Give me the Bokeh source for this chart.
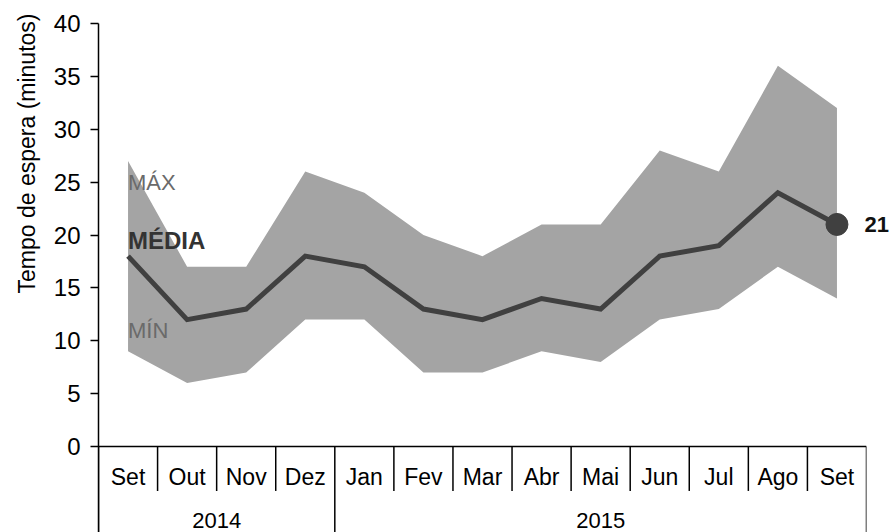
from bokeh.plotting import figure
from bokeh.models import FactorRange, Range1d, FixedTicker, LinearAxis, Title
from bokeh.embed import file_html
from bokeh.resources import INLINE

# ---- data ----
months_2014 = ["Set", "Out", "Nov", "Dez"]
months_2015 = ["Jan", "Fev", "Mar", "Abr", "Mai", "Jun", "Jul", "Ago", "Set"]
max_wait = [27, 17, 17, 26, 24, 20, 18, 21, 21, 28, 26, 36, 32]
mean_wait = [18, 12, 13, 18, 17, 13, 12, 14, 13, 18, 19, 24, 21]
min_wait = [9, 6, 7, 12, 12, 7, 7, 9, 8, 12, 13, 17, 14]
y_ticks = [0, 5, 10, 15, 20, 25, 30, 35, 40]
y_title = "Tempo de espera (minutos)"
band_labels = ["MÁX", "MÉDIA", "MÍN"]

groups = [("2014", months_2014), ("2015", months_2015)]
factors = [(yr, m) for yr, ms in groups for m in ms]
years = [yr for yr, _ in groups]

FONT = "Liberation Sans"
BAND = "#a4a4a4"
LINE = "#404040"
Y_BOTTOM = -8.13

p = figure(width=891, height=532,
           x_range=FactorRange(*factors, range_padding=0, group_padding=0, factor_padding=0),
           y_range=Range1d(Y_BOTTOM, 40),
           output_backend="svg", toolbar_location=None,
           min_border_left=98, min_border_right=18, min_border_top=23, min_border_bottom=0)
p.outline_line_color = None
p.grid.visible = False

# x axis: categorical, sitting at y = 0
xa = p.xaxis[0]
xa.fixed_location = 0
xa.axis_line_color = "black"
xa.axis_line_width = 1.5
xa.major_tick_line_color = None
xa.minor_tick_line_color = None
xa.major_label_text_font = FONT
xa.major_label_text_font_size = "23px"
xa.major_label_text_color = "black"
xa.major_label_standoff = 11
xa.group_text_font_size = "0px"
xa.group_text_color = None
xa.separator_line_color = None

# y axis
ya = p.yaxis[0]
ya.ticker = FixedTicker(ticks=y_ticks)
ya.axis_line_color = "black"
ya.axis_line_width = 1.5
ya.major_tick_out = 8
ya.major_tick_in = 0
ya.major_tick_line_width = 1.5
ya.minor_tick_line_color = None
ya.major_label_text_font = FONT
ya.major_label_text_font_size = "24px"
ya.major_label_text_color = "black"
ya.major_label_standoff = 10

# y title as a left-side title aligned toward the top
p.add_layout(Title(text=y_title, align="right", offset=-10, standoff=21,
                   text_font=FONT, text_font_size="23px", text_font_style="normal",
                   text_color="black"), "left")

# right axis carrying the last mean value
ra = LinearAxis(ticker=FixedTicker(ticks=[mean_wait[-1]]))
ra.axis_line_color = None
ra.major_tick_line_color = None
ra.minor_tick_line_color = None
ra.major_label_text_font = FONT
ra.major_label_text_font_size = "22px"
ra.major_label_text_font_style = "bold"
ra.major_label_text_color = "#111111"
ra.major_label_standoff = -8
p.add_layout(ra, "right")

# band, mean line, end dot
p.varea(x=factors, y1=min_wait, y2=max_wait, fill_color=BAND)
p.line(x=factors, y=mean_wait, line_width=5, line_color=LINE, line_join="miter")
p.scatter(x=[factors[-1]], y=[mean_wait[-1]], size=22, color=LINE)

# separators of the category table (factor + offset coordinates)
month_sep = []
year_sep = []
for yr, ms in groups:
    year_sep.append((yr, ms[0], -0.5))
    for m in ms[1:]:
        month_sep.append((yr, m, -0.5))
year_sep.append((groups[-1][0], groups[-1][1][-1], 0.5))

p.segment(x0=month_sep, y0=[0] * len(month_sep), x1=month_sep, y1=[-4.2] * len(month_sep),
          line_color="black", line_width=1.5)
p.segment(x0=year_sep, y0=[0] * len(year_sep), x1=year_sep, y1=[Y_BOTTOM] * len(year_sep),
          line_color="black", line_width=1.5)

# year labels centred on their groups
p.text(x=years, y=[-7.0] * len(years), text=years, text_color="black",
       text_font={"value": FONT}, text_font_size="22px", text_baseline="middle", text_align="center")

# band labels (text glyphs at the first category)
first = [factors[0]]
p.text(x=first, y=[25], text=[band_labels[0]], text_color="#6a6a6a",
       text_font={"value": FONT}, text_font_size="22px", text_baseline="middle", text_align="left")
p.text(x=first, y=[19.5], text=[band_labels[1]], text_color="#333333", text_font_style="bold",
       text_font={"value": FONT}, text_font_size="24px", text_baseline="middle", text_align="left")
p.text(x=first, y=[11], text=[band_labels[2]], text_color="#6a6a6a",
       text_font={"value": FONT}, text_font_size="22px", text_baseline="middle", text_align="left")

open("out.html", "w").write(file_html(p, INLINE))
